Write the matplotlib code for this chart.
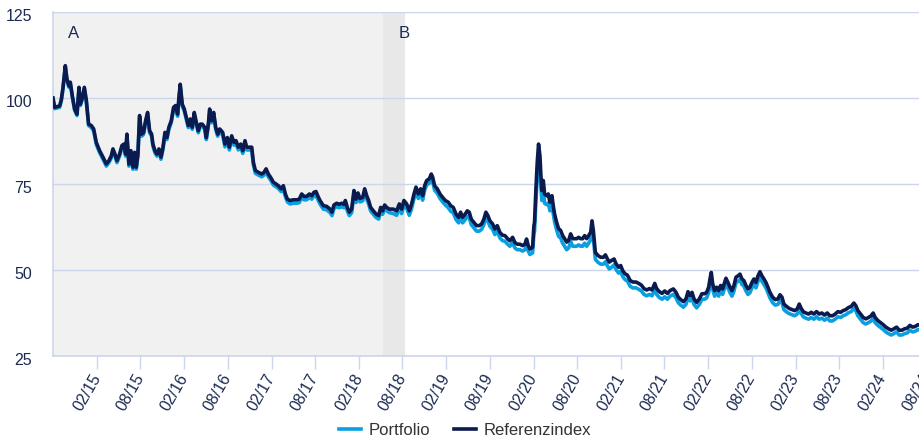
import datetime as dt
import matplotlib
matplotlib.use("Agg")
import matplotlib.pyplot as plt
import matplotlib.dates as mdates
from matplotlib.transforms import ScaledTranslation

plt.rcParams['font.family'] = ['Liberation Sans', 'DejaVu Sans']

# ---- data (x as decimal years) ----
years = [
    2014.581, 2014.600, 2014.657, 2014.676, 2014.696, 2014.722, 2014.741, 2014.764, 2014.779, 2014.802,
    2014.829, 2014.856, 2014.879, 2014.894, 2014.917, 2014.940, 2014.963, 2014.989,
    2015.020, 2015.047, 2015.077, 2015.115, 2015.154, 2015.192, 2015.222, 2015.249, 2015.268, 2015.291,
    2015.314, 2015.344, 2015.371, 2015.394, 2015.413, 2015.428, 2015.451, 2015.474, 2015.497, 2015.516,
    2015.535, 2015.554, 2015.573, 2015.596, 2015.619, 2015.642, 2015.665, 2015.688, 2015.711, 2015.726,
    2015.749, 2015.772, 2015.795, 2015.818, 2015.841, 2015.864, 2015.886, 2015.909, 2015.936, 2015.963,
    2015.986, 2016.009, 2016.024, 2016.039, 2016.062, 2016.085, 2016.108, 2016.131, 2016.154, 2016.177,
    2016.199, 2016.222, 2016.245, 2016.268, 2016.291, 2016.318, 2016.337, 2016.360, 2016.375, 2016.398,
    2016.421, 2016.444, 2016.467, 2016.490,
    2016.524, 2016.550, 2016.577, 2016.600, 2016.627, 2016.653, 2016.676, 2016.703, 2016.730, 2016.753,
    2016.779, 2016.798, 2016.837, 2016.856, 2016.875, 2016.898, 2016.932, 2016.970, 2016.997, 2017.020,
    2017.046, 2017.073, 2017.104, 2017.134, 2017.161, 2017.192, 2017.218, 2017.241, 2017.264,
    2017.295, 2017.333, 2017.371, 2017.401, 2017.428, 2017.455, 2017.485, 2017.516, 2017.543, 2017.569,
    2017.592, 2017.615, 2017.638, 2017.676, 2017.714, 2017.753, 2017.775, 2017.798, 2017.829, 2017.859,
    2017.886, 2017.913, 2017.928, 2017.951, 2017.974, 2018.001, 2018.027, 2018.050, 2018.073, 2018.096,
    2018.127, 2018.150, 2018.173, 2018.195, 2018.218, 2018.249, 2018.279, 2018.310, 2018.333, 2018.356,
    2018.379, 2018.402, 2018.432,
    2018.478, 2018.516, 2018.547, 2018.574, 2018.600, 2018.631, 2018.661, 2018.688, 2018.715, 2018.738,
    2018.764, 2018.791, 2018.814, 2018.837, 2018.860, 2018.890, 2018.913, 2018.929, 2018.951, 2018.982,
    2019.013, 2019.043, 2019.074,
    2019.108, 2019.135, 2019.165, 2019.196, 2019.226, 2019.249, 2019.272, 2019.303, 2019.326, 2019.348,
    2019.371, 2019.402, 2019.432, 2019.463, 2019.490, 2019.516, 2019.539, 2019.562, 2019.585, 2019.616,
    2019.642, 2019.669, 2019.700, 2019.730, 2019.757, 2019.784, 2019.814, 2019.845, 2019.871, 2019.898,
    2019.929, 2019.959, 2019.986, 2020.005, 2020.024, 2020.043, 2020.074, 2020.089,
    2020.096, 2020.112, 2020.127, 2020.142, 2020.158, 2020.169, 2020.180, 2020.196, 2020.211, 2020.234,
    2020.253, 2020.272, 2020.295, 2020.310, 2020.325,
    2020.348, 2020.371, 2020.394, 2020.417, 2020.440, 2020.463, 2020.486, 2020.509, 2020.532, 2020.554,
    2020.577, 2020.600, 2020.623, 2020.646, 2020.669, 2020.692, 2020.715, 2020.738, 2020.753, 2020.768,
    2020.791, 2020.822, 2020.852, 2020.883, 2020.906, 2020.929, 2020.951, 2020.978,
    2021.005, 2021.028, 2021.058, 2021.081, 2021.104, 2021.131, 2021.158, 2021.188, 2021.219, 2021.257,
    2021.287, 2021.318, 2021.348, 2021.379, 2021.410, 2021.440, 2021.471, 2021.493, 2021.524, 2021.555,
    2021.585, 2021.616,
    2021.646, 2021.684, 2021.715, 2021.741, 2021.768, 2021.799, 2021.829, 2021.852, 2021.875, 2021.898,
    2021.921, 2021.951, 2021.982, 2022.012, 2022.043, 2022.066, 2022.089, 2022.104, 2022.119, 2022.135,
    2022.157, 2022.180, 2022.203, 2022.226, 2022.249, 2022.272, 2022.287, 2022.310, 2022.333, 2022.356,
    2022.379, 2022.402, 2022.425, 2022.448, 2022.470, 2022.493, 2022.516, 2022.539, 2022.562, 2022.585,
    2022.608, 2022.631, 2022.654, 2022.677, 2022.699, 2022.722, 2022.745, 2022.768, 2022.791, 2022.822,
    2022.852, 2022.883, 2022.906, 2022.929, 2022.951, 2022.982,
    2023.013, 2023.043, 2023.074, 2023.104, 2023.127, 2023.150, 2023.173, 2023.203, 2023.234, 2023.264,
    2023.295, 2023.325, 2023.356, 2023.386, 2023.417, 2023.448, 2023.478, 2023.509, 2023.539, 2023.570,
    2023.600, 2023.631, 2023.661, 2023.692, 2023.722, 2023.753, 2023.776, 2023.799, 2023.829, 2023.860,
    2023.890, 2023.921, 2023.951, 2023.974, 2023.997,
    2024.028, 2024.058, 2024.089, 2024.119, 2024.150, 2024.181, 2024.211, 2024.242, 2024.272, 2024.303,
    2024.333, 2024.364, 2024.394, 2024.425, 2024.455, 2024.486, 2024.510,
]

referenzindex = [
    100.0, 97.3, 97.7, 99.5, 103.1, 109.4, 105.5, 103.5, 104.6, 100.7,
    96.8, 95.3, 103.1, 98.2, 100.0, 103.1, 99.3, 92.4,
    92.0, 91.0, 87.1, 84.7, 82.8, 80.8, 81.8, 83.2, 85.2, 83.7,
    81.8, 83.7, 86.2, 86.6, 83.7, 89.5, 80.8, 84.7, 79.9, 84.2,
    79.9, 83.7, 94.9, 89.5, 90.0, 93.4, 95.8, 90.5, 89.5, 86.6,
    84.7, 83.7, 85.2, 82.8, 85.6, 90.0, 88.5, 91.5, 93.4, 97.3,
    97.8, 95.3, 100.2, 104.0, 98.2, 96.8, 94.4, 92.0, 93.9, 91.5,
    95.8, 93.0, 90.5, 92.4, 92.4, 91.5, 88.5, 92.4, 96.8, 93.4,
    95.8, 91.5, 89.5, 91.0,
    90.0, 86.6, 88.5, 85.7, 89.0, 87.1, 87.6, 85.7, 86.6, 84.7,
    87.6, 85.7, 85.7, 85.7, 81.3, 78.9, 78.4, 77.9, 78.4, 79.4,
    77.9, 76.9, 75.5, 75.0, 74.5, 73.6, 74.5, 72.1, 70.6,
    70.2, 70.4, 70.4, 70.6, 72.1, 71.4, 71.4, 72.1, 71.6, 72.6,
    72.8, 71.4, 70.2, 68.7, 68.5, 67.7, 66.8, 68.9, 69.4, 69.1,
    69.4, 69.1, 70.2, 68.2, 66.8, 67.7, 73.1, 70.6, 72.4, 70.8,
    71.1, 73.6, 71.6, 70.2, 68.2, 67.2, 66.3, 65.8, 68.2, 67.2,
    68.9, 68.2, 67.7,
    67.7, 67.2, 69.2, 67.7, 70.2, 69.2, 67.2, 69.2, 72.1, 74.1,
    72.1, 73.6, 71.6, 74.5, 76.0, 76.5, 77.9, 77.0, 74.5, 73.6,
    72.1, 71.1, 70.2,
    69.7, 68.7, 68.2, 66.3, 65.3, 66.8, 65.3, 66.3, 67.2, 66.8,
    64.8, 63.8, 62.9, 62.9, 63.4, 64.8, 66.8, 65.8, 64.3, 63.4,
    61.9, 62.9, 60.9, 60.1, 60.0, 59.2, 58.5, 59.5, 58.0, 57.5,
    57.5, 57.1, 57.5, 59.0, 57.1, 56.1, 56.6, 62.9,
    63.9, 73.6, 81.3, 86.6, 83.2, 77.4, 73.1, 76.0, 72.1, 71.6,
    72.1, 69.7, 71.6, 68.7, 66.3,
    63.9, 62.0, 61.5, 60.0, 59.1, 58.1, 58.6, 60.5, 59.1, 59.1,
    59.1, 59.5, 59.1, 59.1, 60.0, 59.1, 60.0, 61.0, 64.3, 61.5,
    55.1, 54.2, 53.7, 53.7, 54.4, 53.2, 52.3, 52.8,
    53.2, 51.8, 50.8, 51.3, 49.8, 48.9, 48.5, 47.0, 46.5, 46.5,
    46.1, 45.6, 44.6, 44.2, 44.6, 44.2, 46.1, 44.6, 43.7, 43.2,
    43.9, 43.2,
    44.0, 44.5, 43.5, 42.1, 41.4, 40.8, 41.6, 43.7, 42.6, 43.5,
    41.6, 40.6, 41.6, 43.1, 43.1, 43.5, 45.0, 47.4, 49.3, 46.0,
    44.0, 45.0, 44.0, 45.5, 44.5, 46.4, 47.6, 46.4, 45.0, 44.0,
    45.5, 47.9, 48.3, 48.8, 47.4, 46.9, 45.5, 44.5, 45.0, 46.4,
    47.4, 46.4, 48.3, 49.5, 48.3, 47.4, 46.4, 45.0, 43.5, 42.1,
    41.4, 41.6, 42.8, 42.1, 40.1, 39.4,
    38.8, 38.5, 38.2, 38.7, 40.1, 38.8, 37.9, 37.5, 37.2, 37.7,
    37.2, 37.9, 37.2, 37.5, 36.9, 37.5, 36.7, 36.7, 37.2, 37.9,
    37.7, 38.2, 38.5, 39.1, 39.4, 40.4, 39.6, 38.2, 37.2, 36.2,
    35.8, 36.2, 36.7, 37.5, 36.2,
    35.3, 34.7, 34.1, 33.4, 32.9, 32.5, 32.9, 33.4, 32.5, 32.5,
    32.9, 33.1, 33.9, 33.4, 33.6, 34.1, 33.9,
]

portfolio = [
    99.6, 96.9, 97.3, 99.1, 102.7, 109.0, 105.1, 103.1, 104.2, 100.3,
    96.4, 94.9, 102.7, 97.8, 99.6, 102.7, 98.9, 92.0,
    91.4, 90.4, 86.5, 84.1, 82.2, 80.2, 81.2, 82.6, 84.6, 83.1,
    81.2, 83.1, 85.6, 86.0, 83.1, 88.9, 80.2, 84.1, 79.3, 83.6,
    79.3, 83.1, 94.3, 88.9, 89.4, 92.8, 95.2, 89.9, 88.9, 86.0,
    84.1, 83.1, 84.6, 82.2, 85.0, 89.4, 87.9, 90.9, 92.8, 96.7,
    97.2, 94.7, 99.6, 103.4, 97.6, 96.2, 93.8, 91.4, 93.3, 90.9,
    95.2, 92.4, 89.9, 91.8, 91.8, 90.9, 87.9, 91.8, 96.2, 92.8,
    95.2, 90.9, 88.9, 90.4,
    89.2, 85.8, 87.7, 84.9, 88.2, 86.3, 86.8, 84.9, 85.8, 83.9,
    86.8, 84.9, 84.9, 84.9, 80.5, 78.1, 77.6, 77.1, 77.6, 78.6,
    77.1, 76.1, 74.7, 74.2, 73.7, 72.8, 73.7, 71.3, 69.8,
    69.2, 69.4, 69.4, 69.6, 71.1, 70.4, 70.4, 71.1, 70.6, 71.6,
    71.8, 70.4, 69.2, 67.7, 67.5, 66.7, 65.8, 67.9, 68.4, 68.1,
    68.4, 68.1, 69.2, 67.2, 65.8, 66.7, 72.1, 69.6, 71.4, 69.8,
    70.1, 72.6, 70.6, 69.2, 67.2, 66.2, 65.3, 64.8, 67.2, 66.2,
    67.9, 67.2, 66.7,
    66.4, 65.9, 67.9, 66.4, 68.9, 67.9, 65.9, 67.9, 70.8, 72.8,
    70.8, 72.3, 70.3, 73.2, 74.7, 75.2, 76.6, 75.7, 73.2, 72.3,
    70.8, 69.8, 68.9,
    68.1, 67.1, 66.6, 64.7, 63.7, 65.2, 63.7, 64.7, 65.6, 65.2,
    63.2, 62.2, 61.3, 61.3, 61.8, 63.2, 65.2, 64.2, 62.7, 61.8,
    60.3, 61.3, 59.3, 58.5, 58.4, 57.6, 56.9, 57.9, 56.4, 55.9,
    55.9, 55.5, 55.9, 57.4, 55.5, 54.5, 55.0, 60.5,
    61.2, 70.0, 77.0, 82.0, 79.0, 74.0, 70.2, 73.2, 69.4, 69.0,
    69.5, 67.2, 69.2, 66.4, 64.0,
    61.7, 59.8, 59.3, 57.8, 56.9, 55.9, 56.4, 58.3, 56.9, 56.9,
    56.9, 57.3, 56.9, 56.9, 57.8, 56.9, 57.8, 58.8, 62.1, 59.3,
    53.1, 52.2, 51.7, 51.7, 52.4, 51.2, 50.3, 50.8,
    51.5, 50.1, 49.1, 49.6, 48.1, 47.2, 46.8, 45.3, 44.8, 44.8,
    44.4, 43.9, 42.9, 42.5, 42.9, 42.5, 44.4, 42.9, 42.0, 41.5,
    42.2, 41.5,
    42.4, 42.9, 41.9, 40.5, 39.8, 39.2, 40.0, 42.1, 41.0, 41.9,
    40.0, 39.0, 40.0, 41.5, 41.5, 41.9, 43.4, 45.6, 47.4, 44.4,
    42.4, 43.4, 42.4, 43.9, 42.9, 44.8, 46.0, 44.8, 43.4, 42.4,
    43.9, 46.3, 46.7, 47.2, 45.8, 45.3, 43.9, 42.9, 43.4, 44.8,
    45.8, 44.8, 46.7, 47.9, 46.7, 45.8, 44.8, 43.4, 41.9, 40.5,
    39.8, 40.0, 41.2, 40.5, 38.5, 37.8,
    37.3, 37.0, 36.7, 37.2, 38.6, 37.3, 36.4, 36.0, 35.7, 36.2,
    35.7, 36.4, 35.7, 36.0, 35.4, 36.0, 35.2, 35.2, 35.7, 36.4,
    36.2, 36.7, 37.0, 37.6, 37.9, 38.9, 38.1, 36.7, 35.7, 34.7,
    34.3, 34.7, 35.2, 36.0, 34.7,
    33.9, 33.3, 32.7, 32.0, 31.5, 31.1, 31.5, 32.0, 31.1, 31.1,
    31.5, 31.7, 32.5, 32.0, 32.2, 32.7, 32.5,
]

series_names = ["Portfolio", "Referenzindex"]
series_colors = ["#0a9fe0", "#0b1a4f"]
phase_labels = ["A", "B"]
phase_bounds = [2014.581, 2018.360, 2018.612]   # start A, start B, end B
x_range = [2014.581, 2024.738]
y_ticks = [25, 50, 75, 100, 125]


def to_dt(y):
    yr = int(y)
    start = dt.datetime(yr, 1, 1)
    end = dt.datetime(yr + 1, 1, 1)
    return start + (end - start) * (y - yr)


dates = [to_dt(y) for y in years]

W, H = 919, 439
fig = plt.figure(figsize=(W / 100, H / 100), dpi=100)
ax = fig.add_axes([53 / W, 1 - 357 / H, 887 / W, 344 / H])

grid_col = "#ccd6eb"
text_col = "#1b2a52"

# phases
ax.axvspan(to_dt(phase_bounds[0]), to_dt(phase_bounds[1]), color="#f1f1f1", lw=0, zorder=0)
ax.axvspan(to_dt(phase_bounds[1]), to_dt(phase_bounds[2]), color="#e8e8e8", lw=0, zorder=0)
for lab, x0 in zip(phase_labels, phase_bounds[:2]):
    ax.annotate(lab, xy=(to_dt(x0), 125), xytext=(21, -20), textcoords="offset pixels",
                ha="center", va="center", fontsize=12, color=text_col, zorder=5)

ax.plot(dates, portfolio, color=series_colors[0], lw=2.6, label=series_names[0], zorder=3,
        solid_joinstyle="round")
ax.plot(dates, referenzindex, color=series_colors[1], lw=2.6, label=series_names[1], zorder=4,
        solid_joinstyle="round")

ax.set_xlim(to_dt(x_range[0]), to_dt(x_range[1]))
ax.set_ylim(25, 125)
ax.set_yticks(y_ticks)

ax.set_axisbelow(True)
ax.grid(axis="y", color=grid_col, lw=1.0, zorder=0.5)
ax.grid(axis="x", visible=False)

for s in ["top", "right"]:
    ax.spines[s].set_visible(False)
for s in ["left", "bottom"]:
    ax.spines[s].set_color(grid_col)
    ax.spines[s].set_linewidth(1.2)

ax.xaxis.set_major_locator(mdates.MonthLocator(bymonth=[2, 8]))
ax.xaxis.set_major_formatter(mdates.DateFormatter("%m/%y"))
ax.tick_params(axis="x", length=9.4, width=1.0, color=grid_col, pad=3.6,
               labelsize=11.5, labelcolor=text_col)
ax.tick_params(axis="y", length=0, pad=15, labelsize=11.5, labelcolor=text_col)

for lbl in ax.get_xticklabels():
    lbl.set_rotation(60)
    lbl.set_ha("right")
    lbl.set_va("center")
    lbl.set_rotation_mode("anchor")

dy = ScaledTranslation(0, -2 / 100, fig.dpi_scale_trans)
for lbl in ax.get_yticklabels():
    lbl.set_transform(lbl.get_transform() + dy)

handles, labels = ax.get_legend_handles_labels()
fig.legend(handles, labels, loc="center", bbox_to_anchor=(465 / W, 1 - 431 / H), ncol=2,
           frameon=False, fontsize=12, handlelength=1.32, handletextpad=0.5,
           columnspacing=1.38, labelcolor="#333333", borderpad=0, borderaxespad=0)

fig.savefig("out.png", dpi=100)
